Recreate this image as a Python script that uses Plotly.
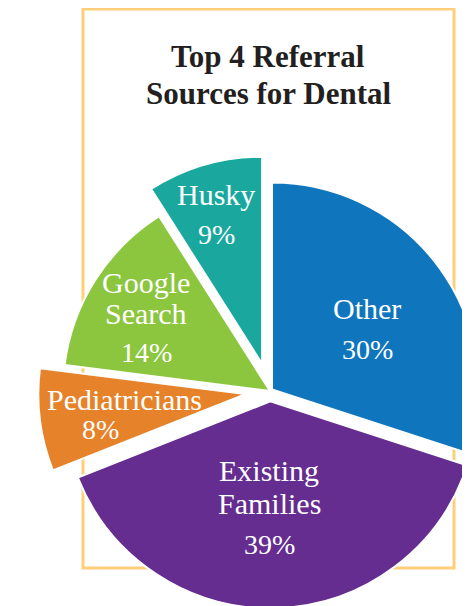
import plotly.graph_objects as go

# ---- data ----
categories = ["Other", "Existing<br>Families", "Pediatricians", "Google<br>Search", "Husky"]
values = [30, 39, 8, 14, 9]
pulls = [0.012, 0.05, 0.12, 0.0, 0.137]
colors = ["#0F75BC", "#652D90", "#E6822A", "#8CC63F", "#1AA89E"]
title_lines = ["Top 4 Referral", "Sources for Dental"]

# ---- layout constants (pixels, page offset of 8px body margin removed) ----
OFF = 8
W, H = 520, 640
CX, CY, R = 270 - OFF, 391 - OFF, 207
half = R * (1 + max(pulls))

def px(x):
    return (x - OFF) / W

def py(y):
    return 1 - (y - OFF) / H

def dpx(x):
    return x / W

def dpy(y):
    return 1 - y / H

# label anchor positions in page pixels (name line centres, percent line centre)
label_pos = [
    {"name": [(367, 308)], "pct": (367, 349)},
    {"name": [(269, 470), (269, 503)], "pct": (269, 544)},
    {"name": [(124, 399)], "pct": (100, 429)},
    {"name": [(146, 282), (146, 313)], "pct": (146, 352)},
    {"name": [(216, 194)], "pct": (216, 234)},
]

fig = go.Figure()
fig.add_trace(go.Pie(
    labels=categories,
    values=values,
    pull=pulls,
    sort=False,
    direction="clockwise",
    rotation=0,
    marker=dict(colors=colors, line=dict(color="white", width=2)),
    textinfo="none",
    hoverinfo="label+percent",
    domain=dict(x=[dpx(CX - half), dpx(CX + half)], y=[dpy(CY + half), dpy(CY - half)]),
    showlegend=False,
))

annotations = []
label_font = dict(family="Liberation Serif", size=30, color="white")
pct_font = dict(family="Liberation Serif", size=28, color="white")
total = sum(values)
for cat, val, pos in zip(categories, values, label_pos):
    lines = cat.split("<br>")
    for line, (x, y) in zip(lines, pos["name"]):
        annotations.append(dict(x=px(x), y=py(y), xref="paper", yref="paper",
                                text=line, showarrow=False, font=label_font,
                                xanchor="center", yanchor="middle"))
    x, y = pos["pct"]
    annotations.append(dict(x=px(x), y=py(y), xref="paper", yref="paper",
                            text=f"{round(100 * val / total)}%", showarrow=False,
                            font=pct_font, xanchor="center", yanchor="middle"))

title_font = dict(family="Liberation Serif", size=31, color="#231F20")
for line, y in zip(title_lines, [57, 93]):
    annotations.append(dict(x=px(268), y=py(y), xref="paper", yref="paper",
                            text=f"<b>{line}</b>", showarrow=False, font=title_font,
                            xanchor="center", yanchor="middle"))

fig.update_layout(
    width=W, height=H,
    margin=dict(l=0, r=0, t=0, b=0),
    paper_bgcolor="white",
    plot_bgcolor="white",
    annotations=annotations,
    shapes=[dict(type="rect", xref="paper", yref="paper",
                 x0=px(83), x1=px(454), y0=py(568), y1=py(9),
                 line=dict(color="#FDCF7A", width=3), layer="below")],
)

fig.write_html("out.html")
